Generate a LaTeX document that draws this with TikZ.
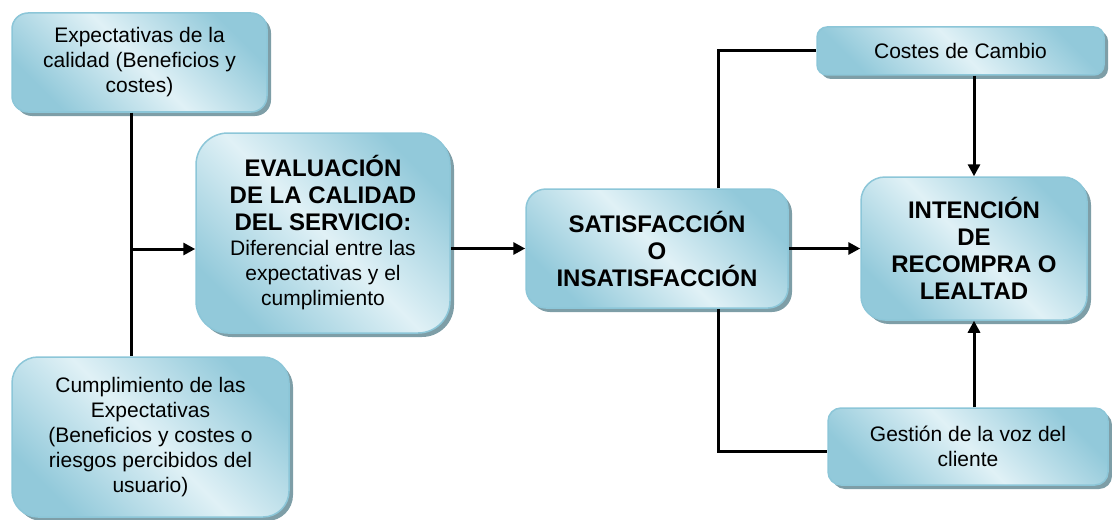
\documentclass[tikz,border=0pt]{standalone}
\usepackage{fontspec}
\setmainfont{Liberation Sans}
\usetikzlibrary{arrows.meta,shadows}
\definecolor{boxdark}{HTML}{92C9DA}
\definecolor{boxlight}{HTML}{E0F1F6}
\definecolor{boxedge}{HTML}{8CC6D8}
\definecolor{shadowcol}{HTML}{7E9EA7}
\newcommand\bigb[1]{{\fontsize{12}{13.5}\selectfont\bfseries #1}}
\begin{document}
\begin{tikzpicture}[x=0.5pt,y=-0.5pt,
  box/.style={draw=boxedge, line width=0.75pt, top color=boxdark, bottom color=boxdark,
    middle color=boxlight, shading angle=-45,
    drop shadow={shadow xshift=2pt, shadow yshift=-2pt, fill=shadowcol, opacity=1},
    align=center, font=\fontsize{10.5}{12.5}\selectfont, inner sep=2pt},
  boldbox/.style={box, font=\fontsize{12}{13.5}\selectfont\bfseries},
  conn/.style={line width=1.5pt},
  arr/.style={conn,-{Triangle[length=6pt,width=6pt]}}]
\useasboundingbox (0,0) rectangle (1112,519);

\node[box, minimum width=127.5pt, minimum height=49.5pt, rounded corners=8pt] (exp) at (139.5,62.5)
  {Expectativas de la\\calidad (Beneficios y\\costes)};
\node[box, minimum width=138.5pt, minimum height=80pt, rounded corners=13pt] (cum) at (150.5,437)
  {Cumplimiento de las\\Expectativas\\(Beneficios y costes o\\riesgos percibidos del\\usuario)};
\node[box, minimum width=127pt, minimum height=100pt, rounded corners=16pt] (eva) at (323,233)
  {\bigb{EVALUACIÓN}\\[1pt]\bigb{DE LA CALIDAD}\\[1pt]\bigb{DEL SERVICIO:}\\Diferencial entre las\\expectativas y el\\cumplimiento};
\node[boldbox, minimum width=131pt, minimum height=59.5pt, rounded corners=10pt] (sat) at (657,248.5)
  {SATISFACCIÓN\\O\\INSATISFACCIÓN};
\node[boldbox, minimum width=113pt, minimum height=71.5pt, rounded corners=12pt] (int) at (974,248.5)
  {INTENCIÓN\\DE\\RECOMPRA O\\LEALTAD};
\node[box, minimum width=143.5pt, minimum height=24pt, rounded corners=5pt] (cos) at (960.5,51)
  {Costes de Cambio};
\node[box, minimum width=140pt, minimum height=38.5pt, rounded corners=6.5pt] (ges) at (968,446.5)
  {Gestión de la voz del\\cliente};

\coordinate (j) at (131,249);
\coordinate (k) at (718,249);

\draw[conn] (exp.south -| j) -- (cum.north -| j);
\draw[arr] (j) -- (eva.west |- j);
\draw[arr] (eva.east |- sat.west) -- (sat.west);
\draw[arr] (sat.east) -- (int.west);
\draw[conn] (sat.north -| k) |- (cos.west);
\draw[conn] (sat.south -| k) |- ([yshift=-2.5pt]ges.west);
\draw[arr] (cos.south -| int.north) -- (int.north);
\draw[arr] (ges.north -| int.south) -- (int.south);
\end{tikzpicture}
\end{document}
